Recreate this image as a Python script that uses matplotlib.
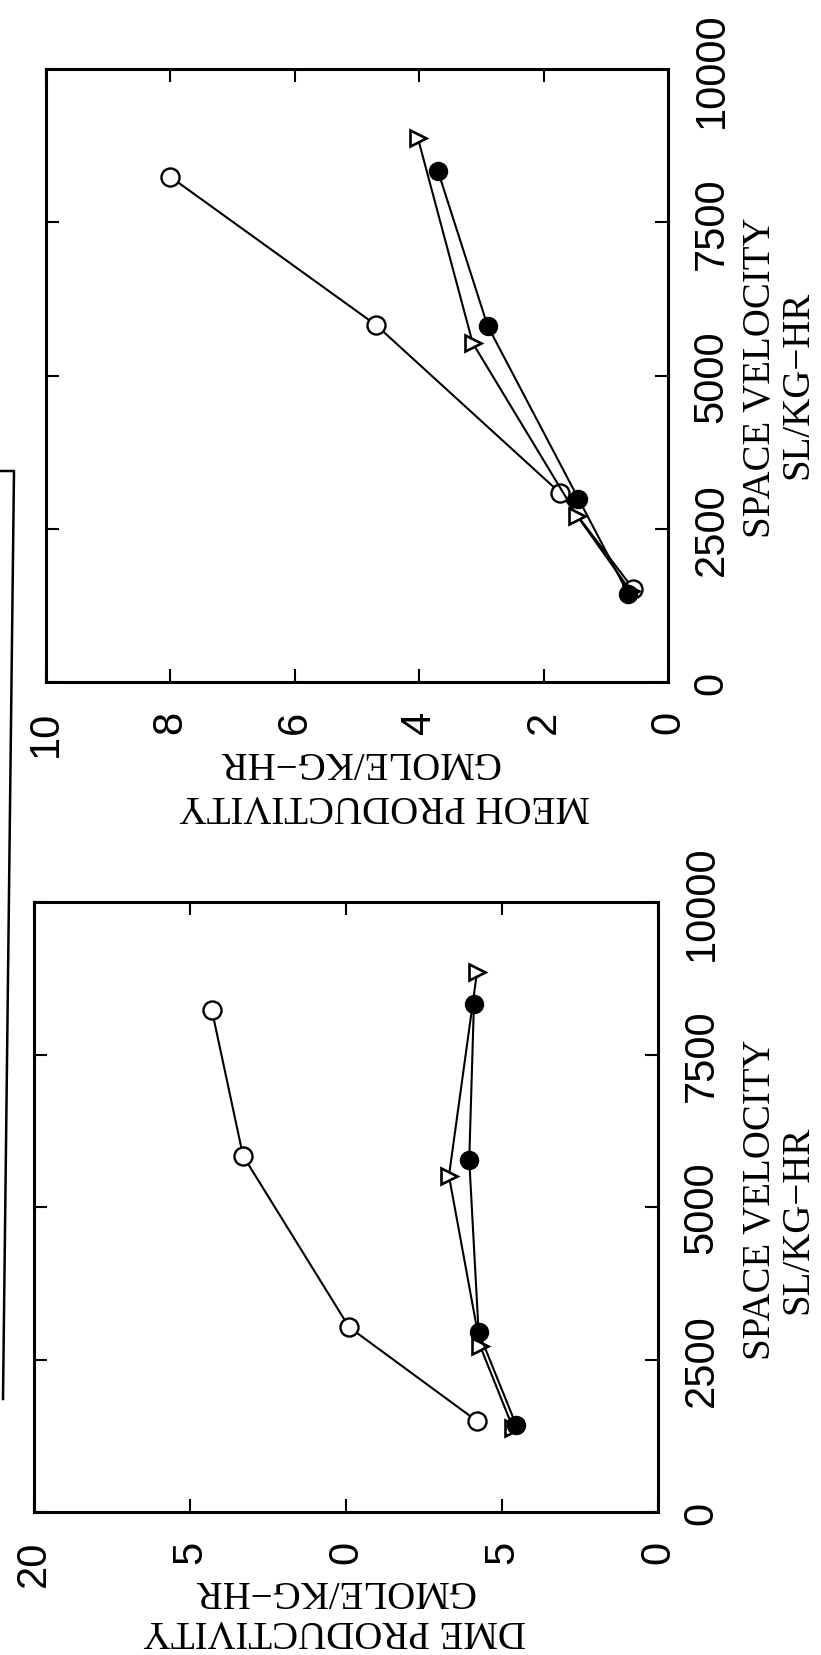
import matplotlib.pyplot as plt
from matplotlib.lines import Line2D

# Datos: velocidad espacial (SL/KG-HR) y productividad (GMOLE/KG-HR)
sv_meoh_abierto = [1520, 3080, 5820, 8240]
meoh_abierto = [0.56, 1.73, 4.69, 8.0]
sv_meoh_lleno = [1440, 2990, 5810, 8340]
meoh_lleno = [0.64, 1.44, 2.9, 3.7]
sv_meoh_triangulo = [1480, 2710, 5530, 8870]
meoh_triangulo = [0.6, 1.46, 3.14, 4.02]

sv_dme_abierto = [1490, 3030, 5840, 8230]
dme_abierto = [5.8, 9.9, 13.3, 14.3]
sv_dme_lleno = [1430, 2950, 5770, 8330]
dme_lleno = [4.55, 5.75, 6.05, 5.9]
sv_dme_triangulo = [1380, 2720, 5510, 8850]
dme_triangulo = [4.65, 5.7, 6.7, 5.8]

sv_ticks = [0, 2500, 5000, 7500, 10000]
sv_etiquetas = ['0', '2500', '5000', '7500', '10000']
meoh_ticks = [0, 2, 4, 6, 8, 10]
meoh_etiquetas = ['0', '2', '4', '6', '8', '10']
dme_ticks = [0, 5, 10, 15, 20]
dme_etiquetas = ['0', '5', '0', '5', '20']  # los "1" no salen en el escaneo

W, H = 821, 1656
SERIF = 'Liberation Serif'
SANS = 'Liberation Sans'

abierto = dict(color='black', lw=1.5, marker='o', ms=13, mfc='white', mec='black', mew=1.7)
lleno = dict(color='black', lw=1.5, marker='o', ms=13, mfc='black', mec='black')
triangulo = dict(color='black', lw=1.5, marker='>', ms=12, mfc='white', mec='black', mew=1.9)


def caja(izq, der, arriba, abajo):
    # pasar pixeles de la imagen a coordenadas de figura
    return [izq / W, 1 - abajo / H, (der - izq) / W, (abajo - arriba) / H]


def texto(x, y, s, rot):
    plt.gcf().text(x / W, 1 - y / H, s, rotation=rot, ha='center', va='center',
                   fontsize=28, family=SERIF)


def panel(ax, series, xmax, ticks, etiquetas):
    for prod, sv, estilo in series:
        ax.plot(prod, sv, clip_on=False, **estilo)
    ax.set_xlim(xmax, 0)
    ax.set_ylim(0, 10000)
    ax.set_xticks(ticks)
    ax.set_xticklabels(etiquetas, rotation=90)
    ax.set_yticks(sv_ticks)
    ax.set_yticklabels(sv_etiquetas, rotation=90, va='center')
    ax.tick_params(direction='in', length=9.5, width=1.5, top=True, bottom=True,
                   left=True, right=True, labelleft=False, labelright=True,
                   labelsize=30, labelfontfamily=SANS)
    ax.tick_params(axis='x', pad=20)
    ax.tick_params(axis='y', pad=17)
    for s in ax.spines.values():
        s.set_linewidth(2.2)


def dibujar():
    fig = plt.figure(figsize=(W / 100, H / 100), dpi=100)

    # Panel de arriba: metanol
    ax1 = fig.add_axes(caja(46, 668, 70, 683))
    panel(ax1, [(meoh_abierto, sv_meoh_abierto, abierto),
                (meoh_triangulo, sv_meoh_triangulo, triangulo),
                (meoh_lleno, sv_meoh_lleno, lleno)],
          10, meoh_ticks, meoh_etiquetas)

    # Panel de abajo: DME
    ax2 = fig.add_axes(caja(34, 658, 903, 1513))
    panel(ax2, [(dme_abierto, sv_dme_abierto, abierto),
                (dme_triangulo, sv_dme_triangulo, triangulo),
                (dme_lleno, sv_dme_lleno, lleno)],
          20, dme_ticks, dme_etiquetas)

    # Rotulos (la pagina esta girada)
    texto(760, 378, 'SPACE VELOCITY', 90)
    texto(798, 385, 'SL/KG\u2212HR', 90)
    texto(760, 1200, 'SPACE VELOCITY', 90)
    texto(798, 1220, 'SL/KG\u2212HR', 90)
    texto(359, 762, 'GMOLE/KG\u2212HR', 180)
    texto(384, 806, 'MEOH PRODUCTIVITY', 180)
    texto(334, 1591, 'GMOLE/KG\u2212HR', 180)
    texto(334, 1631, 'DME PRODUCTIVITY', 180)

    # Linea del marco que queda a la izquierda
    xs = [0, 14, 3]
    ys = [472, 472, 1400]
    fig.add_artist(Line2D([x / W for x in xs], [1 - y / H for y in ys],
                          color='black', lw=1.8, transform=fig.transFigure))

    fig.savefig('out.png', dpi=100)


if __name__ == '__main__':
    dibujar()
